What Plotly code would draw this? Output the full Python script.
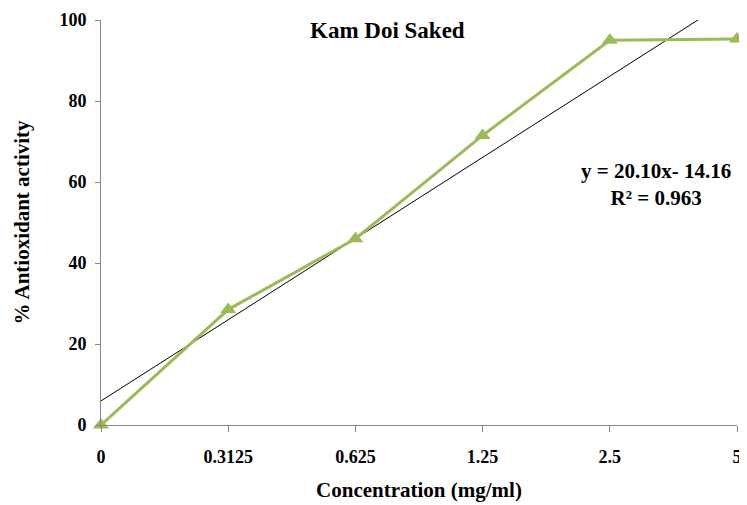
import numpy as np
import plotly.graph_objects as go

categories = ["0", "0.3125", "0.625", "1.25", "2.5", "5"]
activity = [0.0, 28.5, 46.0, 71.5, 95.0, 95.3]

x_pos = list(range(len(categories)))
# Excel-style linear trendline on category index (1..n)
idx = np.arange(1, len(activity) + 1)
slope, intercept = np.polyfit(idx, activity, 1)
trend_y = [slope * i + intercept for i in idx]

font_family = "Liberation Serif"

fig = go.Figure()
fig.add_trace(go.Scatter(
    x=x_pos, y=trend_y, mode="lines",
    line=dict(color="black", width=1), showlegend=False, hoverinfo="skip"))
fig.add_trace(go.Scatter(
    x=x_pos, y=activity, mode="lines+markers",
    line=dict(color="#9BBB59", width=3),
    marker=dict(symbol="triangle-up", size=14, color="#9BBB59"),
    cliponaxis=False, showlegend=False))

# page body has an 8px default margin, so the figure is sized to compensate
fig.update_layout(
    width=739, height=497,
    margin=dict(l=93, r=10, t=12, b=80),
    paper_bgcolor="white", plot_bgcolor="white",
    font=dict(family=font_family, size=15, color="black"),
    xaxis=dict(
        range=[0, 5], tickmode="array", tickvals=x_pos,
        ticktext=["<b>%s</b>" % c for c in categories],
        showgrid=False, zeroline=False, showline=True, linecolor="#868686", linewidth=1,
        ticks="outside", ticklen=6, tickcolor="#868686", automargin=False,
        ticklabelstandoff=9,
        tickfont=dict(family=font_family, size=18),
        title=dict(text="<b>Concentration (mg/ml)</b>", font=dict(family=font_family, size=21), standoff=16),
    ),
    yaxis=dict(
        range=[0, 100], tickvals=[0, 20, 40, 60, 80, 100],
        ticktext=["<b>%d</b>" % v for v in [0, 20, 40, 60, 80, 100]],
        showgrid=False, zeroline=False, showline=True, linecolor="#868686", linewidth=1,
        ticks="outside", ticklen=5, tickcolor="#868686", automargin=False,
        ticklabelstandoff=5,
        tickfont=dict(family=font_family, size=18),
        title=dict(text="<b>% Antioxidant activity</b>", font=dict(family=font_family, size=21), standoff=24),
    ),
    annotations=[
        dict(text="<b>Kam Doi Saked</b>", x=0.45, y=97.5, xref="paper", yref="y",
             xanchor="center", yanchor="middle", showarrow=False,
             font=dict(family=font_family, size=23)),
        dict(text="<b>y = 20.10x- 14.16<br>R² = 0.963</b>", x=4.36, y=59.5, xref="x", yref="y",
             xanchor="center", yanchor="middle", showarrow=False,
             font=dict(family=font_family, size=21)),
    ],
)

fig.write_html("out.html")
